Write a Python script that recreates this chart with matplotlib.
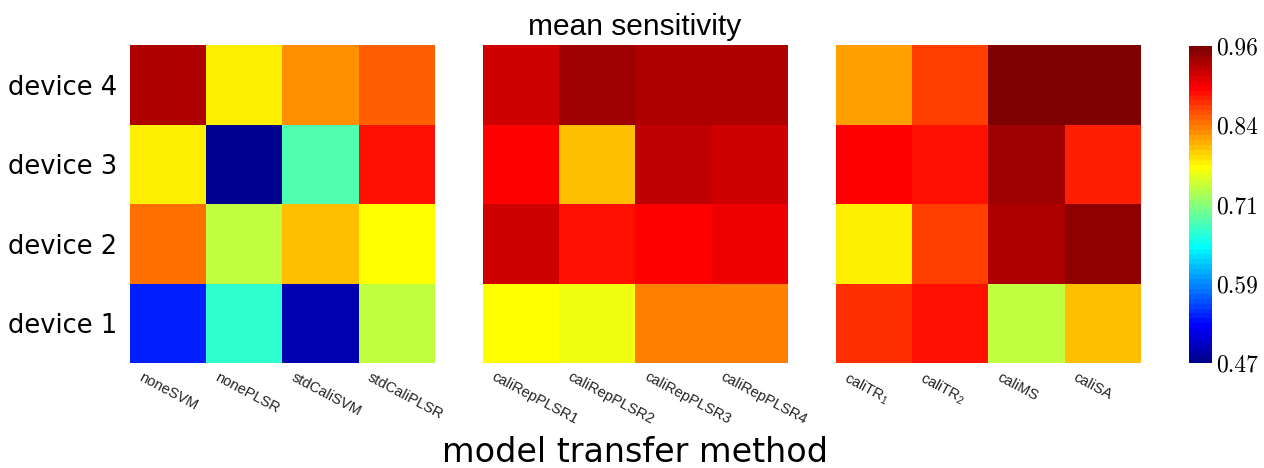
import numpy as np
import matplotlib
matplotlib.use('Agg')
import matplotlib.pyplot as plt
from matplotlib.colors import ListedColormap, Normalize

# mean sensitivity per device (rows: device 1 .. device 4)
devices = ['device 1', 'device 2', 'device 3', 'device 4']

group_none_std = ['noneSVM', 'nonePLSR', 'stdCaliSVM', 'stdCaliPLSR']
sens_none_std = [
    [0.543, 0.673, 0.489, 0.742],
    [0.841, 0.742, 0.803, 0.772],
    [0.780, 0.474, 0.688, 0.887],
    [0.933, 0.780, 0.826, 0.849],
]

group_rep = ['caliRepPLSR1', 'caliRepPLSR2', 'caliRepPLSR3', 'caliRepPLSR4']
sens_rep = [
    [0.772, 0.765, 0.834, 0.834],
    [0.918, 0.887, 0.895, 0.903],
    [0.895, 0.803, 0.926, 0.918],
    [0.918, 0.941, 0.933, 0.933],
]

group_cali = ['caliTR$_{1}$', 'caliTR$_{2}$', 'caliMS', 'caliSA']
sens_cali = [
    [0.872, 0.887, 0.742, 0.803],
    [0.780, 0.864, 0.933, 0.949],
    [0.895, 0.887, 0.941, 0.880],
    [0.818, 0.864, 0.956, 0.956],
]

cbar_labels = ['0.47', '0.59', '0.71', '0.84', '0.96']
VMIN, VMAX = 0.47, 0.96


def matlab_jet(m=64):
    """64-step jet, same construction as MATLAB's jet(m)."""
    n = int(np.ceil(m / 4))
    u = np.concatenate([np.arange(1, n + 1) / n, np.ones(n - 1), np.arange(n, 0, -1) / n])
    g = int(np.ceil(n / 2)) - (1 if m % 4 == 1 else 0) + np.arange(1, len(u) + 1)
    r = g + n
    b = g - n
    r = r[r <= m]
    g = g[g <= m]
    b = b[b >= 1]
    J = np.zeros((m, 3))
    J[r - 1, 0] = u[:len(r)]
    J[g - 1, 1] = u[:len(g)]
    J[b - 1, 2] = u[len(u) - len(b):]
    return ListedColormap(J)


cmap = matlab_jet(64)
norm = Normalize(vmin=VMIN, vmax=VMAX)

plt.rcParams['mathtext.fontset'] = 'custom'
plt.rcParams['mathtext.rm'] = 'Liberation Sans'
plt.rcParams['mathtext.it'] = 'Liberation Sans'

fig = plt.figure(figsize=(12.64, 4.68), dpi=100)
W, H = 1264.0, 468.0

panels = [
    (130, group_none_std, sens_none_std),
    (483, group_rep, sens_rep),
    (836, group_cali, sens_cali),
]

LABEL_OFFSET = -0.33   # rotated labels start left of each cell centre

for i, (x0, names, vals) in enumerate(panels):
    ax = fig.add_axes([x0 / W, (H - 363) / H, 305 / W, 318 / H])
    ax.imshow(np.array(vals), cmap=cmap, norm=norm, origin='lower',
              aspect='auto', interpolation='nearest')
    for s in ax.spines.values():
        s.set_visible(False)
    ax.set_xticks(np.arange(len(names)) + LABEL_OFFSET)
    ax.set_xticklabels(names, rotation=-28, rotation_mode='anchor',
                       ha='left', va='top', fontsize=10.5,
                       family='Liberation Sans', color='#222222')
    ax.tick_params(axis='x', length=0, pad=5)
    ax.set_xlim(-0.5, len(names) - 0.5)
    if i == 0:
        ax.set_yticks(range(len(devices)))
        ax.set_yticklabels(devices, fontsize=18.5, family='DejaVu Sans')
        ax.tick_params(axis='y', length=0, pad=9)
    else:
        ax.set_yticks([])

# colour bar
cax = fig.add_axes([1189 / W, (H - 363) / H, 23 / W, 317 / H])
sm = plt.cm.ScalarMappable(cmap=cmap, norm=norm)
cb = fig.colorbar(sm, cax=cax)
cb.outline.set_visible(False)
cb.set_ticks(np.linspace(VMIN, VMAX, len(cbar_labels)))
cb.set_ticklabels(cbar_labels)
cax.tick_params(length=0, pad=3)
for t in cax.get_yticklabels():
    t.set_family('cmr10')
    t.set_fontsize(17)

fig.text(635 / W, 1 - 27 / H, 'mean sensitivity', ha='center', va='center',
         fontsize=21.5, family='Liberation Sans')
fig.text(635 / W, 1 - 453 / H, 'model transfer method', ha='center', va='center',
         fontsize=24, family='DejaVu Sans')

fig.savefig('out.png', dpi=100)
